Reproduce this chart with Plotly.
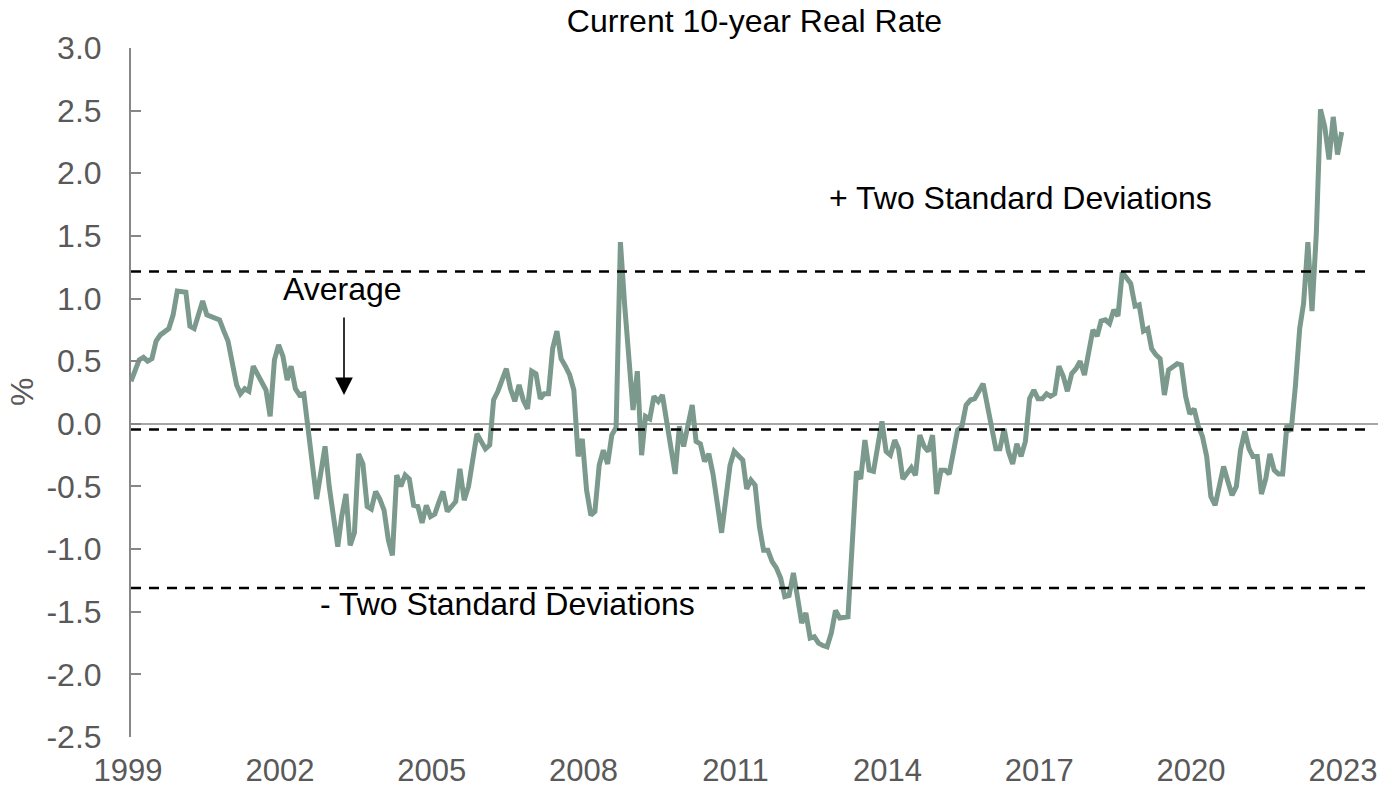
import plotly.graph_objects as go

# ---- data ----
dates = [
    "1999-01", "1999-03", "1999-04", "1999-05", "1999-06", "1999-07", "1999-08", "1999-10", "1999-11", "1999-12",
    "2000-02", "2000-03", "2000-04", "2000-06", "2000-07", "2000-09", "2000-10", "2000-11", "2000-12",
    "2001-02", "2001-03", "2001-04", "2001-05", "2001-06", "2001-07", "2001-09", "2001-10", "2001-11", "2001-12",
    "2002-01", "2002-02", "2002-03", "2002-04", "2002-05", "2002-06", "2002-09", "2002-11", "2002-12",
    "2003-02", "2003-03", "2003-04", "2003-05", "2003-06", "2003-07", "2003-08", "2003-09", "2003-10", "2003-11", "2003-12",
    "2004-01", "2004-02", "2004-03", "2004-04", "2004-05", "2004-06", "2004-07", "2004-08", "2004-09", "2004-10", "2004-11", "2004-12",
    "2005-01", "2005-02", "2005-03", "2005-04", "2005-05", "2005-06", "2005-07", "2005-08", "2005-09", "2005-10", "2005-11",
    "2006-01", "2006-02", "2006-03", "2006-04", "2006-06", "2006-07", "2006-08", "2006-09", "2006-10", "2006-11", "2006-12",
    "2007-01", "2007-02", "2007-03", "2007-04", "2007-05", "2007-06", "2007-07", "2007-08", "2007-09", "2007-10", "2007-11", "2007-12",
    "2008-01", "2008-02", "2008-03", "2008-04", "2008-05", "2008-06", "2008-07", "2008-08", "2008-09", "2008-10", "2008-11", "2008-12",
    "2009-01", "2009-02", "2009-03", "2009-04", "2009-05", "2009-06", "2009-07", "2009-08", "2009-09", "2009-10", "2009-11", "2009-12",
    "2010-02", "2010-03", "2010-04", "2010-05", "2010-06", "2010-07", "2010-09", "2010-11", "2010-12",
    "2011-02", "2011-03", "2011-04", "2011-05", "2011-06", "2011-07", "2011-08", "2011-09", "2011-10", "2011-11", "2011-12",
    "2012-01", "2012-02", "2012-03", "2012-04", "2012-05", "2012-06", "2012-07", "2012-08", "2012-09", "2012-10", "2012-11", "2012-12",
    "2013-01", "2013-02", "2013-03", "2013-05", "2013-06", "2013-07", "2013-08", "2013-09", "2013-10", "2013-11", "2013-12",
    "2014-01", "2014-02", "2014-03", "2014-04", "2014-05", "2014-06", "2014-07", "2014-08", "2014-09", "2014-10", "2014-11", "2014-12",
    "2015-01", "2015-02", "2015-03", "2015-04", "2015-05", "2015-06", "2015-07", "2015-08", "2015-09", "2015-11", "2015-12",
    "2016-01", "2016-02", "2016-03", "2016-04", "2016-05", "2016-06", "2016-07", "2016-08", "2016-09", "2016-10", "2016-11", "2016-12",
    "2017-01", "2017-02", "2017-03", "2017-04", "2017-05", "2017-06", "2017-07", "2017-08", "2017-09", "2017-10", "2017-11", "2017-12",
    "2018-01", "2018-02", "2018-03", "2018-04", "2018-05", "2018-06", "2018-07", "2018-08", "2018-09", "2018-10", "2018-11", "2018-12",
    "2019-01", "2019-02", "2019-03", "2019-04", "2019-05", "2019-06", "2019-07", "2019-08", "2019-09", "2019-10", "2019-11", "2019-12",
    "2020-01", "2020-02", "2020-03", "2020-04", "2020-05", "2020-06", "2020-07", "2020-08", "2020-09", "2020-10", "2020-11", "2020-12",
    "2021-01", "2021-02", "2021-03", "2021-04", "2021-05", "2021-06", "2021-07", "2021-08", "2021-09", "2021-10", "2021-11", "2021-12",
    "2022-01", "2022-02", "2022-03", "2022-04", "2022-05", "2022-06", "2022-07", "2022-08", "2022-09", "2022-10", "2022-11", "2022-12",
]

real_rate = [
    0.34, 0.51, 0.53, 0.50, 0.52, 0.66, 0.71, 0.76, 0.87, 1.06,
    1.05, 0.78, 0.76, 0.98, 0.87, 0.84, 0.83, 0.74, 0.66,
    0.31, 0.24, 0.28, 0.26, 0.46, 0.40, 0.27, 0.06, 0.51, 0.63,
    0.54, 0.35, 0.46, 0.28, 0.23, 0.24, -0.60, -0.18, -0.50,
    -0.98, -0.74, -0.56, -0.97, -0.87, -0.24, -0.32, -0.66, -0.68, -0.54, -0.60,
    -0.69, -0.93, -1.05, -0.41, -0.50, -0.41, -0.44, -0.65, -0.66, -0.79, -0.65, -0.74,
    -0.72, -0.62, -0.54, -0.70, -0.66, -0.62, -0.36, -0.61, -0.50, -0.32, -0.08,
    -0.20, -0.17, 0.19, 0.26, 0.44, 0.28, 0.18, 0.31, 0.19, 0.12, 0.42,
    0.40, 0.20, 0.24, 0.24, 0.60, 0.74, 0.52, 0.46, 0.39, 0.27, -0.26, -0.12,
    -0.53, -0.73, -0.70, -0.33, -0.21, -0.32, -0.09, -0.03, 1.45, 0.96, 0.51, 0.11,
    0.42, -0.25, 0.06, 0.04, 0.22, 0.18, 0.23, 0.03, -0.16, -0.40, -0.02, -0.18,
    0.15, -0.14, -0.16, -0.30, -0.24, -0.40, -0.87, -0.33, -0.22,
    -0.29, -0.52, -0.45, -0.49, -0.82, -1.01, -1.01, -1.10, -1.15, -1.23, -1.38,
    -1.37, -1.19, -1.38, -1.59, -1.51, -1.71, -1.70, -1.75, -1.77, -1.78, -1.67, -1.49,
    -1.55, -1.55, -1.54, -0.38, -0.44, -0.13, -0.37, -0.38, -0.20, 0.02, -0.22,
    -0.25, -0.13, -0.20, -0.44, -0.39, -0.35, -0.41, -0.09, -0.18, -0.22, -0.09, -0.56,
    -0.37, -0.37, -0.40, -0.21, -0.05, -0.02, 0.15, 0.19, 0.20, 0.32, 0.14,
    -0.05, -0.20, -0.20, -0.04, -0.22, -0.32, -0.16, -0.26, -0.14, 0.20, 0.27, 0.20,
    0.20, 0.24, 0.22, 0.24, 0.46, 0.38, 0.26, 0.40, 0.44, 0.50, 0.39, 0.56,
    0.75, 0.70, 0.82, 0.83, 0.80, 0.91, 0.86, 1.21, 1.16, 1.12, 0.94, 0.95,
    0.74, 0.76, 0.60, 0.55, 0.52, 0.23, 0.43, 0.46, 0.48, 0.47, 0.22, 0.08,
    0.12, -0.02, -0.10, -0.26, -0.58, -0.65, -0.49, -0.34, -0.46, -0.57, -0.50, -0.21,
    -0.06, -0.20, -0.26, -0.26, -0.56, -0.44, -0.24, -0.37, -0.40, -0.40, -0.01, -0.06,
    0.30, 0.76, 0.96, 1.45, 0.90, 1.52, 2.51, 2.37, 2.11, 2.45, 2.15, 2.33,
]

average = -0.045
plus_two_sd = 1.215
minus_two_sd = -1.31

tick_years = ["1999", "2002", "2005", "2008", "2011", "2014", "2017", "2020", "2023"]
y_tick_values = [-2.5, -2.0, -1.5, -1.0, -0.5, 0.0, 0.5, 1.0, 1.5, 2.0, 2.5, 3.0]
y_tick_labels = ["-2.5", "-2.0", "-1.5", "-1.0", "-0.5", "0.0", "0.5", "1.0", "1.5", "2.0", "2.5", "3.0"]

# ---- styling ----
FONT = "Liberation Sans, Arial, Helvetica, sans-serif"
FS = 32
LINE_COLOR = "#7b998d"
GREY_TEXT = "#595959"
AXIS_GREY = "#878787"

L, R, T, B = 131, 0, 48, 52
W, H = 1378, 789
PW, PH = W - L - R, H - T - B


def px_x(px):
    return (px - L) / PW


def px_y(py):
    return (H - B - py) / PH


fig = go.Figure()

fig.add_trace(go.Scatter(
    x=dates, y=real_rate, mode="lines",
    line=dict(color=LINE_COLOR, width=5),
    showlegend=False, hoverinfo="x+y",
))

for level in (plus_two_sd, average, minus_two_sd):
    fig.add_shape(type="line", xref="paper", yref="y",
                  x0=0, x1=px_x(1370), y0=level, y1=level,
                  line=dict(color="#000000", width=2.5, dash="10px,8px"))

fig.update_layout(
    width=W, height=H,
    margin=dict(l=L, r=R, t=T, b=B, autoexpand=False),
    paper_bgcolor="white", plot_bgcolor="white",
    font=dict(family=FONT, size=FS, color=GREY_TEXT),
    title=dict(text="Current 10-year Real Rate", x=0.5, xref="paper",
               y=1 - 21 / H, yref="container", xanchor="center", yanchor="middle",
               font=dict(family=FONT, size=FS, color="#000000")),
    xaxis=dict(
        type="date",
        range=["1999-01-01", "2023-08-20"],
        tickvals=[f"{y}-01-01" for y in tick_years],
        ticktext=tick_years,
        showgrid=False, zeroline=False, showline=False, ticks="",
        tickfont=dict(family=FONT, size=31, color=GREY_TEXT),
        ticklabelstandoff=12, ticklabelshift=-3,
        automargin=False, ticklabeloverflow="allow",
    ),
    yaxis=dict(
        range=[-2.5, 3.0],
        tickvals=y_tick_values, ticktext=y_tick_labels,
        showgrid=False,
        showline=True, linecolor=AXIS_GREY, linewidth=2,
        ticks="inside", ticklen=10, tickwidth=2, tickcolor=AXIS_GREY,
        zeroline=True, zerolinecolor="#a6a6a6", zerolinewidth=2,
        tickfont=dict(family=FONT, size=FS, color=GREY_TEXT),
        ticklabelstandoff=21, automargin=False, ticklabeloverflow="allow",
    ),
    annotations=[
        dict(text="%", xref="paper", yref="paper", x=px_x(22), y=px_y(392),
             showarrow=False, textangle=-90, xanchor="center", yanchor="middle",
             font=dict(family=FONT, size=FS, color=GREY_TEXT)),
        dict(text="Average", xref="paper", yref="paper", x=px_x(342.5), y=px_y(289),
             showarrow=False, xanchor="center", yanchor="middle",
             font=dict(family=FONT, size=FS, color="#000000")),
        dict(text="", xref="paper", yref="paper", x=px_x(344), y=px_y(395),
             showarrow=True, ax=0, ay=-79, arrowhead=2, arrowsize=2.2, arrowwidth=1.6,
             arrowcolor="#000000"),
        dict(text="+ Two Standard Deviations", xref="paper", yref="paper",
             x=px_x(1020), y=px_y(198),
             showarrow=False, xanchor="center", yanchor="middle",
             font=dict(family=FONT, size=FS, color="#000000")),
        dict(text="- Two Standard Deviations", xref="paper", yref="paper",
             x=px_x(507.5), y=px_y(604),
             showarrow=False, xanchor="center", yanchor="middle",
             font=dict(family=FONT, size=FS, color="#000000")),
    ],
)

fig.write_html(
    "out.html",
    config={"displayModeBar": False},
    post_script="document.body.style.margin='0';document.body.style.overflow='hidden';",
)
